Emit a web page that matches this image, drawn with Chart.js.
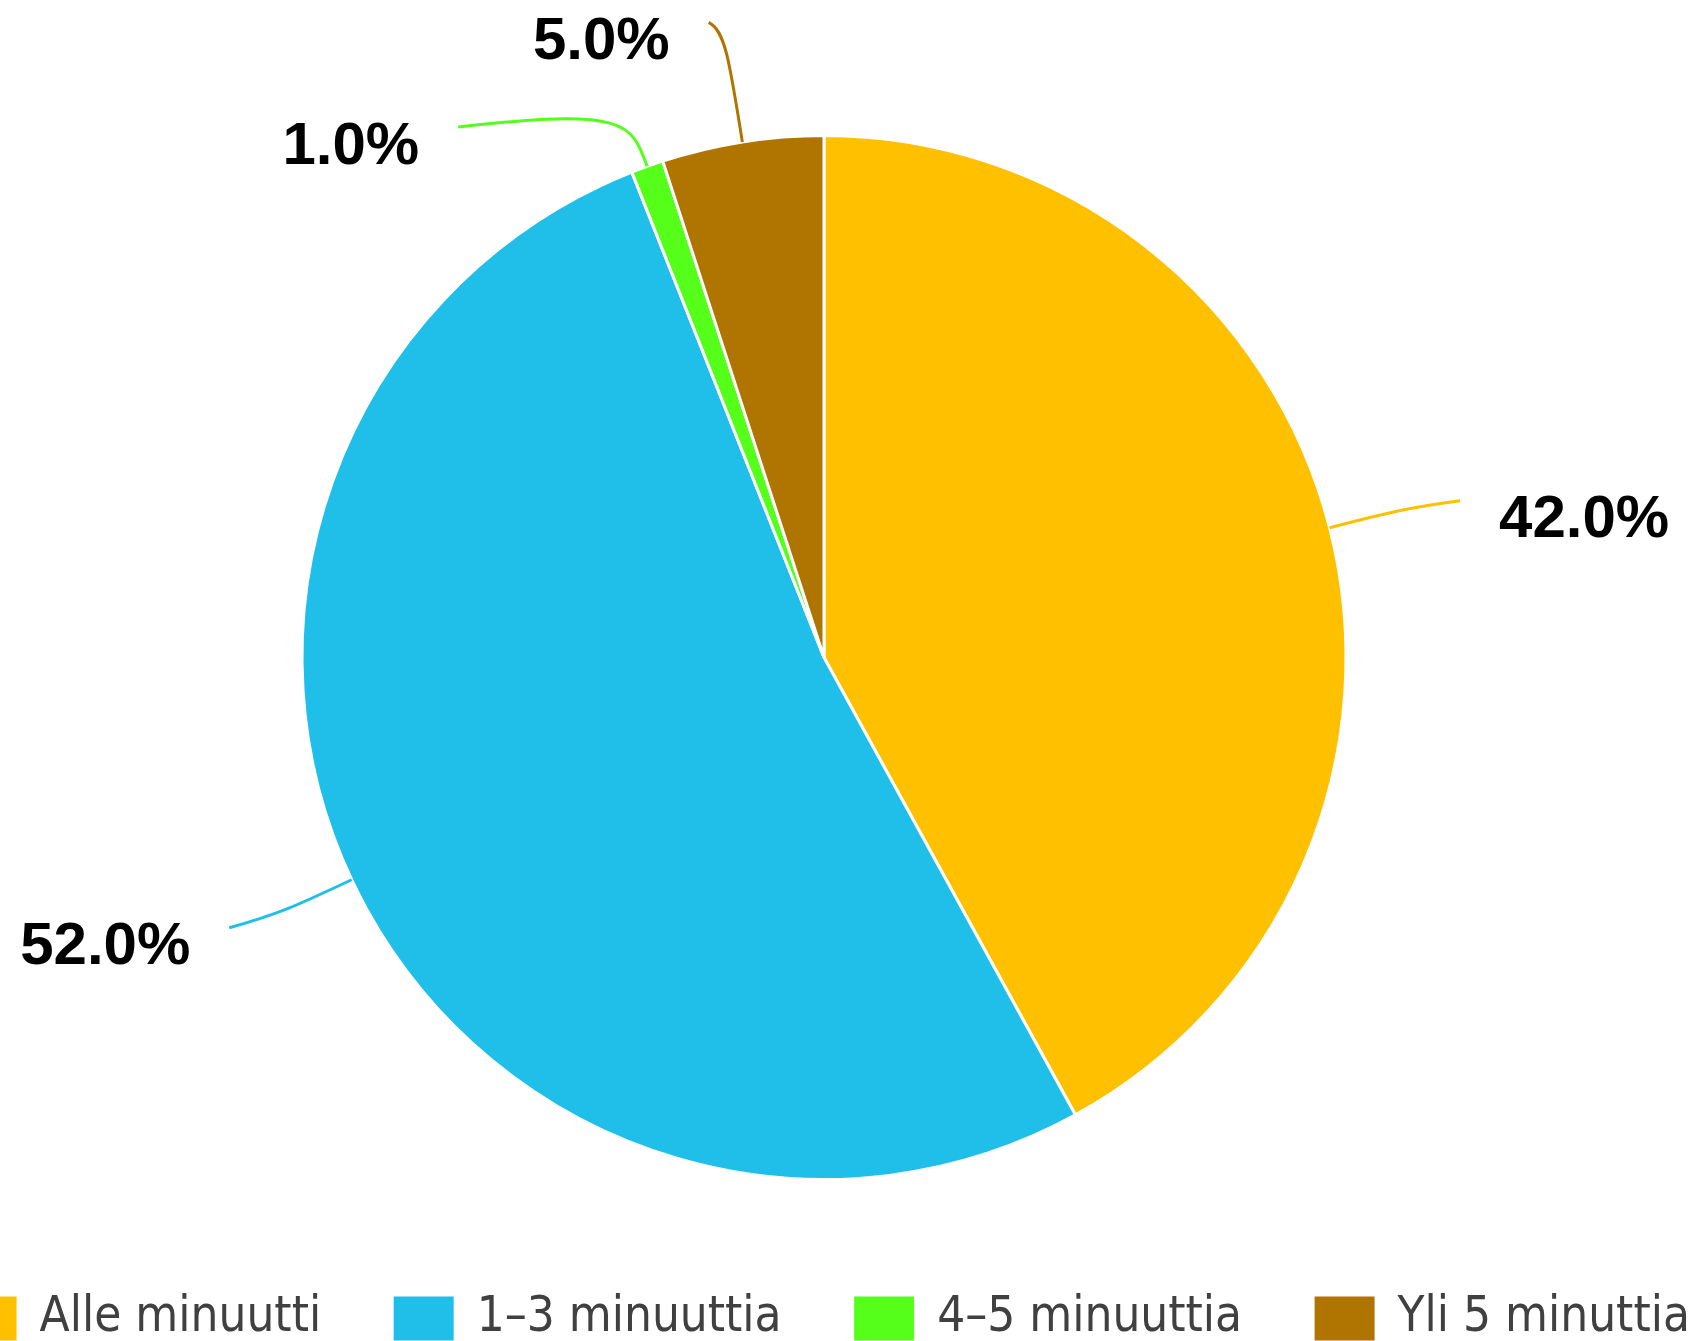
<!DOCTYPE html>
<html>
<head>
<meta charset="utf-8">
<script src="https://cdn.jsdelivr.net/npm/chart.js@4.4.1/dist/chart.umd.min.js"></script>
<style>
  html, body { margin: 0; padding: 0; background: #fff; overflow: hidden; }
  body { width: 1695px; height: 1341px; position: relative; }
  /* canvas is wider than the page so the legend stays on one row, like the original */
  #wrap { position: absolute; left: -156px; top: 0; width: 1960px; height: 1353px; }
</style>
</head>
<body>
<div id="wrap"><canvas id="chart"></canvas></div>
<script>
const categories = ['Alle minuutti', '1–3 minuuttia', '4–5 minuuttia', 'Yli 5 minuttia'];
const shares = [42.0, 52.0, 1.0, 5.0];
const colours = ['#FFC000', '#1FBFEA', '#55FF1A', '#B07500'];

// leader line shape per slice: radial run to a corner, then a run to the label
const leaders = [
  { len: 80, dx: 53, dy: -7 },
  { len: 80, dx: -50, dy: 14 },
  { len: 62, dx: -168, dy: 19 },
  { len: 113, dx: -16, dy: -8 },
];

const outsideLabels = {
  id: 'outsideLabels',
  afterDatasetsDraw(chart) {
    const { ctx } = chart;
    const meta = chart.getDatasetMeta(0);
    ctx.save();
    meta.data.forEach((arc, i) => {
      const { x, y, startAngle, endAngle, outerRadius } = arc.getProps(['x', 'y', 'startAngle', 'endAngle', 'outerRadius'], true);
      const mid = (startAngle + endAngle) / 2;
      const ux = Math.cos(mid), uy = Math.sin(mid);
      const L = leaders[i];
      const ex = x + ux * outerRadius, ey = y + uy * outerRadius;
      const cx = ex + ux * L.len, cy = ey + uy * L.len;
      const tx = cx + L.dx, ty = cy + L.dy;
      ctx.beginPath();
      ctx.moveTo(ex, ey);
      ctx.bezierCurveTo(ex + ux * L.len * 0.75, ey + uy * L.len * 0.75, cx, cy, tx, ty);
      ctx.strokeStyle = colours[i];
      ctx.lineWidth = 3;
      ctx.stroke();

      const right = L.dx > 0;
      ctx.font = 'bold 60px "Liberation Sans", Arial, sans-serif';
      ctx.fillStyle = '#000';
      ctx.textBaseline = 'middle';
      ctx.textAlign = right ? 'left' : 'right';
      ctx.fillText(shares[i].toFixed(1) + '%', right ? tx + 39 : tx - 39, ty + 20);
    });
    ctx.restore();
  }
};

new Chart(document.getElementById('chart'), {
  type: 'pie',
  data: {
    labels: categories,
    datasets: [{
      data: shares,
      backgroundColor: colours,
      borderColor: '#fff',
      borderWidth: 3,
      radius: 522,
    }],
  },
  options: {
    responsive: true, maintainAspectRatio: false,
    animation: false,
    layout: { padding: { top: 95 } },
    plugins: {
      tooltip: { enabled: false },
      legend: {
        position: 'bottom',
        labels: {
          boxWidth: 57, boxHeight: 41,
          padding: 74,
          color: '#404040',
          font: { family: '"DejaVu Sans Condensed", "DejaVu Sans", sans-serif', size: 49 },
          generateLabels: (chart) => Chart.overrides.pie.plugins.legend.labels.generateLabels(chart)
            .map(item => ({ ...item, strokeStyle: item.fillStyle })),
        },
      },
    },
  },
  plugins: [outsideLabels],
});
</script>
</body>
</html>
